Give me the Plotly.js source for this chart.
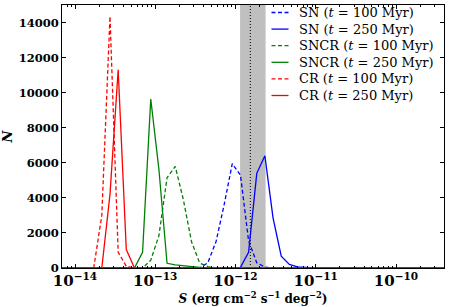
<!DOCTYPE html>
<html><head><meta charset="utf-8">
<script src="https://cdn.plot.ly/plotly-3.0.1.min.js"></script>
<style>html,body{margin:0;padding:0;background:#fff}</style>
</head><body><div id="chart" style="width:450px;height:307px"></div>
<script>
// Histogram bin centres S (erg cm^-2 s^-1 deg^-2)
const binCenters = [6.70e-15, 8.47e-15, 1.072e-14, 1.352e-14, 1.710e-14, 2.158e-14, 2.729e-14, 3.451e-14, 4.355e-14, 5.508e-14,
  6.950e-14, 8.790e-14, 1.112e-13, 1.403e-13, 1.774e-13, 2.239e-13, 2.831e-13, 3.581e-13, 4.519e-13, 5.715e-13,
  7.211e-13, 9.120e-13, 1.153e-12, 1.455e-12, 1.841e-12, 2.323e-12, 2.938e-12, 3.715e-12, 4.688e-12, 5.929e-12,
  7.482e-12, 9.462e-12, 1.197e-11, 1.510e-11, 1.910e-11, 2.410e-11, 3.048e-11, 3.855e-11, 4.864e-11, 6.152e-11,
  7.762e-11, 9.817e-11, 1.242e-10, 1.567e-10, 1.982e-10, 2.500e-10, 3.162e-10, 4.000e-10, 5.047e-10];

const nSN100 =   [0,0,0,0,0,0,0,0,0,0, 0,0,0,0,0,0,0,0,300,1500, 3600,5950,5300,1550,300,50,0,0,0,0, 0,0,0,0,0,0,0,0,0,0, 0,0,0,0,0,0,0,0,0];
const nSN250 =   [0,0,0,0,0,0,0,0,0,0, 0,0,0,0,0,0,0,0,0,0, 0,0,40,900,5400,6400,2850,680,200,60, 20,0,0,0,0,0,0,0,0,0, 0,0,0,0,0,0,0,0,0];
const nSNCR100 = [0,0,0,0,0,0,0,0,0,0, 0,450,1850,5150,5800,3900,1500,280,80,0, 0,0,0,0,0,0,0,0,0,0, 0,0,0,0,0,0,0,0,0,0, 0,0,0,0,0,0,0,0,0];
const nSNCR250 = [0,0,0,0,0,0,0,0,0,0, 900,9640,5600,270,180,120,80,40,0,0, 0,0,0,0,0,0,0,0,0,0, 0,0,0,0,0,0,0,0,0,0, 0,0,0,0,0,0,0,0,0];
const nCR100 =   [0,0,0,0,0,3000,14350,900,100,0, 0,0,0,0,0,0,0,0,0,0, 0,0,0,0,0,0,0,0,0,0, 0,0,0,0,0,0,0,0,0,0, 0,0,0,0,0,0,0,0,0];
const nCR250 =   [0,0,0,0,0,0,4200,11300,1050,0, 0,0,0,0,0,0,0,0,0,0, 0,0,0,0,0,0,0,0,0,0, 0,0,0,0,0,0,0,0,0,0, 0,0,0,0,0,0,0,0,0];

const seriesLabels = ['SN (<i>t</i> = 100 Myr)', 'SN (<i>t</i> = 250 Myr)', 'SNCR (<i>t</i> = 100 Myr)',
  'SNCR (<i>t</i> = 250 Myr)', 'CR (<i>t</i> = 100 Myr)', 'CR (<i>t</i> = 250 Myr)'];
const seriesValues = [nSN100, nSN250, nSNCR100, nSNCR250, nCR100, nCR250];
const seriesColors = ['#0000ff', '#0000ff', '#008000', '#008000', '#ff0000', '#ff0000'];
const seriesDash = ['4px,2.5px', 'solid', '4px,2.5px', 'solid', '4px,2.5px', 'solid'];

// observed band and marker
const bandLow = 1.14e-12, bandHigh = 2.37e-12, markerS = 1.53e-12;
const yTicks = [0, 2000, 4000, 6000, 8000, 10000, 12000, 14000];

const serif = 'DejaVu Serif, Liberation Serif, serif';

const traces = seriesValues.map((v, i) => ({
  type: 'scatter', mode: 'lines', x: binCenters, y: v,
  line: {color: seriesColors[i], width: 1.3, dash: seriesDash[i]},
  showlegend: false, hoverinfo: 'skip'
}));

// custom compact legend
const L = 62, R = 444, T = 5, B = 268;
const px2x = p => (p - L) / (R - L);
const px2y = p => (B - p) / (B - T);
const shapes = [
  {type: 'rect', xref: 'x', yref: 'paper', x0: bandLow, x1: bandHigh, y0: 0, y1: 1,
   fillcolor: '#bfbfbf', line: {width: 0}, layer: 'below'},
  {type: 'line', xref: 'x', yref: 'paper', x0: markerS, x1: markerS, y0: 0, y1: 1,
   line: {color: '#000', width: 1, dash: '1px,2px'}, layer: 'below'}
];
const annotations = [];
const rowY = [12.5, 29.1, 45.7, 62.3, 78.9, 95.5];
seriesLabels.forEach((lab, i) => {
  shapes.push({type: 'line', xref: 'paper', yref: 'paper', x0: px2x(271.5), x1: px2x(288.5),
    y0: px2y(rowY[i]), y1: px2y(rowY[i]), line: {color: seriesColors[i], width: 1.3, dash: seriesDash[i]}});
  annotations.push({xref: 'paper', yref: 'paper', x: px2x(297), y: px2y(rowY[i]), xanchor: 'left', yanchor: 'middle',
    showarrow: false, text: lab, font: {family: serif, size: 13, color: '#000'}});
});

const layout = {
  width: 450, height: 307,
  margin: {l: 62, r: 6, t: 5, b: 39},
  paper_bgcolor: '#fff', plot_bgcolor: '#fff',
  xaxis: {
    type: 'log', range: [-14.162, -9.402], dtick: 1, exponentformat: 'power',
    showgrid: false, zeroline: false, showline: true, linecolor: '#000', linewidth: 1, mirror: 'allticks',
    ticks: 'inside', ticklen: 4, tickcolor: '#000',
    minor: {ticks: 'inside', ticklen: 2, dtick: 'D1', tickcolor: '#000', showgrid: false},
    tickfont: {family: serif, size: 12, weight: 'bold', color: '#000'},
    title: {text: '<i>S</i> (erg cm<sup>−2</sup> s<sup>−1</sup> deg<sup>−2</sup>)', standoff: 4,
            font: {family: serif, size: 12, weight: 'bold', color: '#000'}}
  },
  yaxis: {
    range: [0, 15000], tickvals: yTicks, tickformat: 'd',
    showgrid: false, zeroline: false, showline: true, linecolor: '#000', linewidth: 1, mirror: 'allticks',
    ticks: 'inside', ticklen: 4, tickcolor: '#000',
    tickfont: {family: serif, size: 11.5, weight: 'bold', color: '#000'},
    title: {text: '<i>N</i>', standoff: 4, font: {family: serif, size: 13, weight: 'bold', color: '#000'}}
  },
  shapes: shapes,
  annotations: annotations
};

Plotly.newPlot('chart', traces, layout, {staticPlot: true, displayModeBar: false});
</script>
</body></html>
